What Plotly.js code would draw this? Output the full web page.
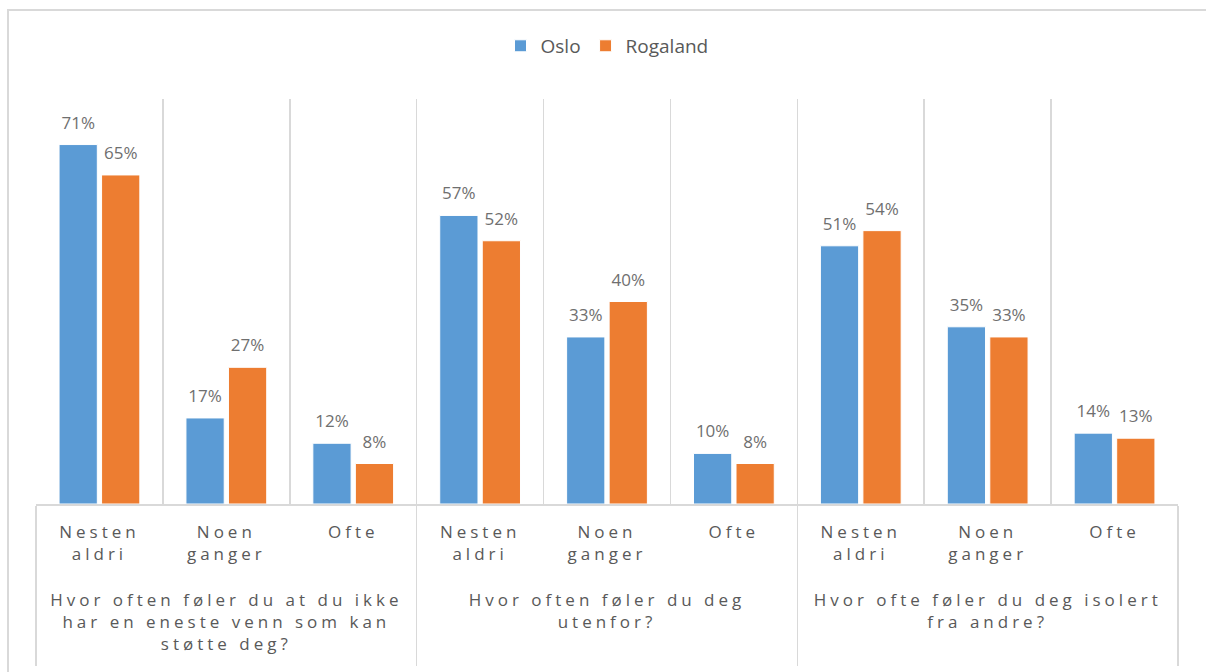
<!DOCTYPE html>
<html>
<head>
<meta charset="utf-8">
<script src="https://cdn.plot.ly/plotly-3.0.1.min.js"></script>
<style>
  html, body { margin: 0; padding: 0; background: #ffffff; }
  #wrap { position: relative; width: 1206px; height: 672px; overflow: hidden; }
  #chart { position: absolute; left: 0; top: 0; width: 1206px; height: 672px; }
  #frame { position: absolute; left: 7px; top: 9px; width: 1210px; height: 680px;
           border: 2px solid #d9d9d9; box-sizing: border-box; pointer-events: none; }
  #chart .xtick text, #chart .xtick2 text { letter-spacing: 4px; }
  #chart .xtick2 text { translate: 0px 33px; }
  #chart .bartext { translate: 0px -8px; }
  #chart path.xdivider { transform-box: fill-box; transform-origin: 50% 0%; scale: 1 1.365; }
</style>
</head>
<body>
<div id="wrap">
  <div id="chart"></div>
  <div id="frame"></div>
</div>
<script>
// ---- data ----
const questions = [
  "Hvor often føler du at du ikke<br>har en eneste venn som kan<br>støtte deg?",
  "Hvor often føler du deg<br>utenfor?",
  "Hvor ofte føler du deg isolert<br>fra andre?"
];
const answers = ["Nesten<br>aldri", "Noen<br>ganger", "Ofte"];
const seriesNames = ["Oslo", "Rogaland"];
const osloValues = [71, 17, 12, 57, 33, 10, 51, 35, 14];
const rogalandValues = [65, 27, 8, 52, 40, 8, 54, 33, 13];

// build multicategory x from the arrays
const xOuter = [], xInner = [];
questions.forEach(q => answers.forEach(a => { xOuter.push(q); xInner.push(a); }));

const FONT = "Open Sans, Noto Sans, sans-serif";
const colors = ["#5B9BD5", "#ED7D31"];

function barTrace(name, vals, color) {
  return {
    type: "bar",
    name: name,
    x: [xOuter, xInner],
    y: vals,
    marker: { color: color, line: { color: "#ffffff", width: 1 } },
    text: vals.map(v => v + "%"),
    texttemplate: "%{text}",
    textposition: "outside",
    textfont: { family: FONT, size: 17, color: "#6f6f6f" },
    cliponaxis: false,
    hoverinfo: "skip"
  };
}

const data = [
  barTrace(seriesNames[0], osloValues, colors[0]),
  barTrace(seriesNames[1], rogalandValues, colors[1])
];

const layout = {
  width: 1206,
  height: 672,
  margin: { l: 36, r: 28, t: 99, b: 168 },
  paper_bgcolor: "#ffffff",
  plot_bgcolor: "#ffffff",
  barmode: "group",
  bargap: 0.33,
  bargroupgap: 0.1,
  font: { family: FONT, color: "#595959" },
  showlegend: true,
  legend: {
    orientation: "h",
    x: 0.5, xanchor: "center",
    y: 1.131, yanchor: "middle",
    font: { family: FONT, size: 19, color: "#595959" },
    itemclick: false
  },
  xaxis: {
    type: "multicategory",
    tickson: "boundaries",
    showgrid: true,
    gridcolor: "#d9d9d9",
    gridwidth: 1.5,
    showline: true,
    linecolor: "#d9d9d9",
    linewidth: 1.5,
    ticks: "",
    ticklabelstandoff: 12,
    showdividers: true,
    dividercolor: "#d9d9d9",
    dividerwidth: 1.5,
    tickfont: { family: FONT, size: 17, color: "#595959" },
    fixedrange: true
  },
  yaxis: {
    range: [0, 80],
    visible: false,
    showgrid: false,
    zeroline: false,
    fixedrange: true
  }
};

Plotly.newPlot("chart", data, layout, { displayModeBar: false, staticPlot: true });
</script>
</body>
</html>
